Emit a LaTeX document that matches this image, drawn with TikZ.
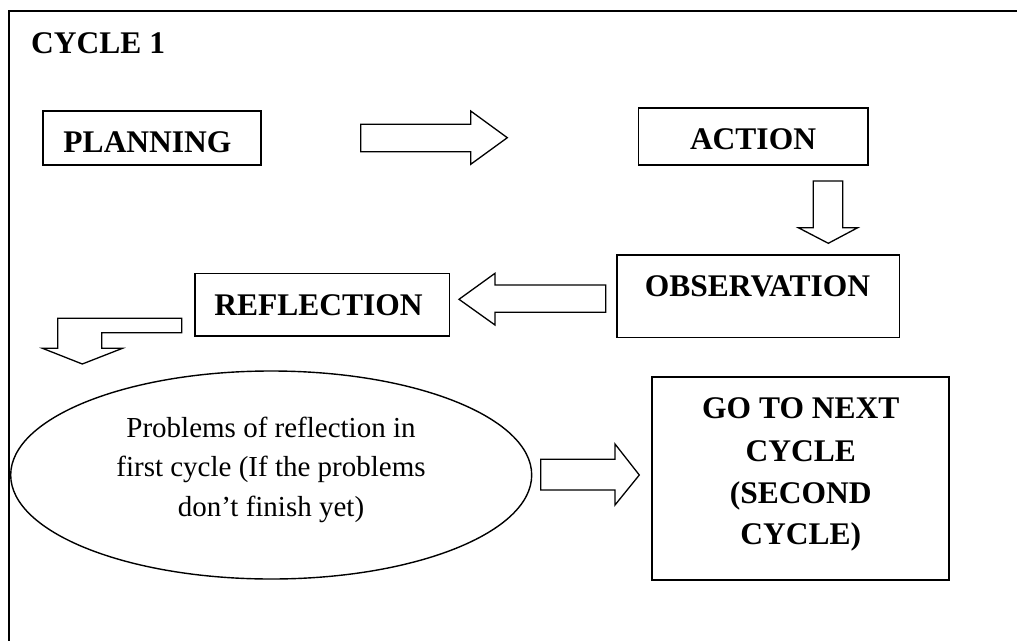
\documentclass[tikz,border=0pt]{standalone}
\usepackage{fontspec}
\setmainfont{Liberation Serif}
\usetikzlibrary{shapes.geometric}
\begin{document}
\begin{tikzpicture}[x=1pt,y=-1pt,
  box/.style={draw, line width=1.6pt, inner sep=0pt},
  blk/.style={draw, line width=1.3pt, line join=miter, fill=white},
  lbl/.style={font=\fontsize{31.5}{38}\selectfont\bfseries, inner sep=0pt},
  txt/.style={font=\fontsize{29}{40}\selectfont, inner sep=0pt}]
\useasboundingbox (0,0) rectangle (1017,640);
\begin{scope}
  \clip (0,0) rectangle (1017,640);
  \draw[line width=1.8pt] (9,660) -- (9,11) -- (1030,11);
\end{scope}
% title
\node[lbl, anchor=base west] (title) at (31,53) {CYCLE 1};
% boxes
\node[box, minimum width=218.3pt, minimum height=54pt] (planning) at (151.85,138) {};
\node[lbl, anchor=base] (tplanning) at (147.5,152) {PLANNING};
\node[box, minimum width=229.4pt, minimum height=57.3pt] (action) at (753,136.35) {};
\node[lbl, anchor=base] (taction) at (753,149) {ACTION};
\node[box, minimum width=282.6pt, minimum height=82.3pt] (observation) at (758,296.15) {};
\node[lbl, anchor=base] (tobservation) at (757.5,296) {OBSERVATION};
\node[box, minimum width=254.3pt, minimum height=62.7pt] (reflection) at (322.15,304.65) {};
\node[lbl, anchor=base] (treflection) at (318.5,315) {REFLECTION};
\node[box, minimum width=297pt, minimum height=203pt] (next) at (800.5,478.5) {};
\node[lbl, anchor=base] (tn1) at (800.8,418) {GO TO NEXT};
\node[lbl, anchor=base] (tn2) at (800.8,461) {CYCLE};
\node[lbl, anchor=base] (tn3) at (800.8,503) {(SECOND};
\node[lbl, anchor=base] (tn4) at (800.8,544) {CYCLE)};
% ellipse
\node[ellipse, draw, line width=1.4pt, minimum width=521pt, minimum height=208pt, inner sep=0pt] (problems) at (271.2,475) {};
\node[txt, anchor=base] (tp1) at (271,437) {Problems of reflection in};
\node[txt, anchor=base] (tp2) at (271,476) {first cycle (If the problems};
\node[txt, anchor=base] (tp3) at (271,516) {don’t finish yet)};
% block arrows
\draw[blk] (360.7,124.3) -- (470.7,124.3) -- (470.7,111) -- (507.3,137.7) -- (470.7,164.3) -- (470.7,151.7) -- (360.7,151.7) -- cycle;
\draw[blk] (813.3,181) -- (842.7,181) -- (842.7,227.7) -- (857.7,227.7) -- (828.3,243.3) -- (798.3,227.7) -- (813.3,227.7) -- cycle;
\draw[blk] (605.7,285) -- (495,285) -- (495,273.3) -- (459,299.3) -- (495,325) -- (495,312.3) -- (605.7,312.3) -- cycle;
\draw[blk] (181.7,318.3) -- (57.7,318.3) -- (57.7,348.3) -- (42.5,348.3) -- (82.3,364) -- (122.5,348.3) -- (101.7,348.3) -- (101.7,332.7) -- (181.7,332.7) -- cycle;
\draw[blk] (540.7,459.3) -- (615,459.3) -- (615,444) -- (639.3,475) -- (615,505) -- (615,490) -- (540.7,490) -- cycle;
\end{tikzpicture}
\end{document}
